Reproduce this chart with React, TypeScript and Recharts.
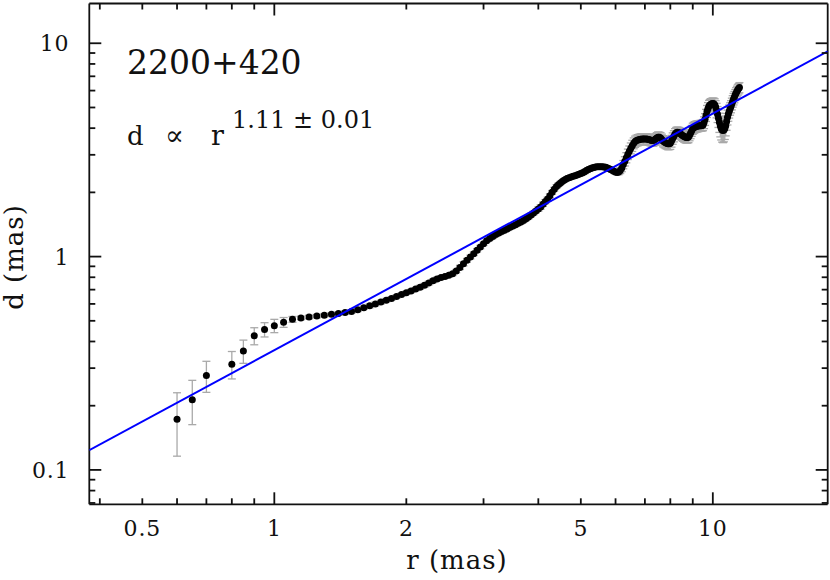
import { ScatterChart, Scatter, XAxis, YAxis, ErrorBar } from "recharts";

// jet width d versus core distance r (mas)
const radius = [
  0.6, 0.65, 0.7, 0.8, 0.85, 0.9, 0.95, 1.0, 1.05, 1.1,
  1.15, 1.2, 1.25, 1.3, 1.35, 1.4, 1.45, 1.5, 1.55, 1.6,
  1.65, 1.7, 1.75, 1.8, 1.85, 1.9, 1.95, 2.0, 2.05, 2.1,
  2.15, 2.2, 2.25, 2.3, 2.35, 2.4, 2.45, 2.5, 2.55, 2.6,
  2.65, 2.7, 2.75, 2.8, 2.85, 2.9, 2.95, 3.0, 3.05, 3.1,
  3.15, 3.2, 3.25, 3.3, 3.35, 3.4, 3.45, 3.5, 3.55, 3.6,
  3.65, 3.7, 3.75, 3.8, 3.85, 3.9, 3.95,
  4.0, 4.05, 4.1, 4.15, 4.2, 4.25, 4.3, 4.35, 4.4, 4.45, 4.5, 4.55, 4.6, 4.65, 4.7, 4.75, 4.8, 4.85, 4.9, 4.95,
  5.0, 5.05, 5.1, 5.15, 5.2, 5.25, 5.3, 5.35, 5.4, 5.45, 5.5, 5.55, 5.6, 5.65, 5.7, 5.75, 5.8, 5.85, 5.9, 5.95,
  6.0, 6.05, 6.1, 6.15, 6.2, 6.25, 6.3, 6.35, 6.4, 6.45, 6.5, 6.55, 6.6, 6.65, 6.7, 6.75, 6.8, 6.85, 6.9, 6.95,
  7.0, 7.05, 7.1, 7.15, 7.2, 7.25, 7.3, 7.35, 7.4, 7.45, 7.5, 7.55, 7.6, 7.65, 7.7, 7.75, 7.8, 7.85, 7.9, 7.95,
  8.0, 8.05, 8.1, 8.15, 8.2, 8.25, 8.3, 8.35, 8.4, 8.45, 8.5, 8.55, 8.6, 8.65, 8.7, 8.75, 8.8, 8.85, 8.9, 8.95,
  9.0, 9.05, 9.1, 9.15, 9.2, 9.25, 9.3, 9.35, 9.4, 9.45, 9.5, 9.55, 9.6, 9.65, 9.7, 9.75, 9.8, 9.85, 9.9, 9.95,
  10.0, 10.05, 10.1, 10.15, 10.2, 10.25, 10.3, 10.35, 10.4, 10.45, 10.5, 10.55, 10.6, 10.65, 10.7, 10.75, 10.8, 10.85, 10.9, 10.95,
  11.0, 11.05, 11.1, 11.15, 11.2, 11.25, 11.3, 11.35, 11.4, 11.45, 11.5,
];

const width = [
  0.173, 0.213, 0.277, 0.313, 0.361, 0.425, 0.455, 0.474, 0.492, 0.508,
  0.516, 0.521, 0.526, 0.531, 0.536, 0.541, 0.547, 0.553, 0.563, 0.576,
  0.588, 0.6, 0.612, 0.624, 0.637, 0.65, 0.664, 0.677, 0.69, 0.704,
  0.718, 0.733, 0.752, 0.77, 0.786, 0.798, 0.807, 0.817, 0.83, 0.855,
  0.89, 0.925, 0.96, 0.995, 1.032, 1.07, 1.108, 1.148, 1.188, 1.215,
  1.242, 1.27, 1.29, 1.31, 1.33, 1.35, 1.372, 1.392, 1.412, 1.432,
  1.454, 1.476, 1.505, 1.535, 1.567, 1.6, 1.635,
  1.67, 1.71, 1.76, 1.81, 1.86, 1.93, 2.0, 2.07, 2.13, 2.18, 2.22, 2.26, 2.29, 2.32, 2.34, 2.36, 2.38, 2.395, 2.41, 2.43,
  2.45, 2.475, 2.5, 2.53, 2.56, 2.58, 2.6, 2.615, 2.63, 2.635, 2.64, 2.64, 2.64, 2.63, 2.62, 2.6, 2.58, 2.56, 2.54, 2.51,
  2.49, 2.48, 2.49, 2.53, 2.6, 2.7, 2.8, 2.91, 3.02, 3.12, 3.22, 3.31, 3.4, 3.46, 3.5, 3.52, 3.54, 3.55, 3.56, 3.56,
  3.56, 3.56, 3.55, 3.535, 3.52, 3.505, 3.5, 3.52, 3.56, 3.6, 3.63, 3.625, 3.6, 3.54, 3.48, 3.45, 3.42, 3.4, 3.38, 3.38,
  3.4, 3.48, 3.58, 3.67, 3.76, 3.81, 3.83, 3.82, 3.8, 3.76, 3.72, 3.69, 3.66, 3.64, 3.62, 3.62, 3.64, 3.71, 3.8, 3.89,
  3.98, 4.02, 4.05, 4.07, 4.08, 4.09, 4.1, 4.105, 4.11, 4.12, 4.14, 4.25, 4.4, 4.6, 4.8, 4.95, 5.08, 5.14, 5.18, 5.2,
  5.22, 5.2, 5.15, 5.02, 4.85, 4.65, 4.45, 4.26, 4.1, 3.99, 3.92, 3.9, 3.92, 3.99, 4.1, 4.3, 4.5, 4.66, 4.8, 4.93,
  5.05, 5.2, 5.35, 5.48, 5.6, 5.73, 5.85, 5.95, 6.05, 6.13, 6.2,
];

const widthErr = [
  0.057, 0.05, 0.046, 0.046, 0.045, 0.039, 0.035, 0.034, 0.026, 0.016,
  0.01, 0.01, 0.01, 0.01, 0.01, 0.01, 0.01, 0.01, 0.01, 0.01,
  0.012, 0.012, 0.012, 0.012, 0.012, 0.012, 0.012, 0.012, 0.012, 0.012,
  0.015, 0.015, 0.015, 0.015, 0.015, 0.015, 0.015, 0.015, 0.015, 0.015,
  0.02, 0.02, 0.02, 0.02, 0.02, 0.02, 0.02, 0.02, 0.02, 0.02,
  0.025, 0.025, 0.025, 0.025, 0.025, 0.025, 0.025, 0.025, 0.025, 0.025,
  0.03, 0.03, 0.03, 0.03, 0.03, 0.03, 0.03,
  0.04, 0.04, 0.04, 0.04, 0.04, 0.04, 0.04, 0.04, 0.04, 0.04, 0.04, 0.04, 0.04, 0.04, 0.04, 0.04, 0.04, 0.04, 0.04, 0.04,
  0.05, 0.05, 0.05, 0.05, 0.05, 0.05, 0.05, 0.05, 0.05, 0.05, 0.05, 0.05, 0.05, 0.05, 0.05, 0.05, 0.05, 0.05, 0.05, 0.05,
  0.05, 0.06, 0.07, 0.08, 0.1, 0.12, 0.14, 0.16, 0.17, 0.18, 0.19, 0.2, 0.2, 0.21, 0.21, 0.21, 0.21, 0.21, 0.21, 0.21,
  0.21, 0.21, 0.21, 0.21, 0.21, 0.21, 0.21, 0.21, 0.21, 0.21, 0.21, 0.21, 0.21, 0.21, 0.21, 0.21, 0.21, 0.21, 0.21, 0.21,
  0.22, 0.22, 0.22, 0.22, 0.22, 0.22, 0.22, 0.22, 0.22, 0.22, 0.22, 0.22, 0.22, 0.22, 0.22, 0.22, 0.22, 0.22, 0.23, 0.23,
  0.24, 0.24, 0.24, 0.24, 0.24, 0.24, 0.24, 0.24, 0.24, 0.24, 0.25, 0.27, 0.28, 0.3, 0.31, 0.32, 0.32, 0.32, 0.32, 0.32,
  0.32, 0.33, 0.34, 0.36, 0.38, 0.4, 0.42, 0.44, 0.46, 0.47, 0.48, 0.48, 0.47, 0.45, 0.42, 0.39, 0.36, 0.35, 0.34, 0.33,
  0.33, 0.33, 0.33, 0.34, 0.34, 0.34, 0.34, 0.34, 0.34, 0.34, 0.34,
];

// power-law fit d = A r^k
const fitAmp = 0.364;
const fitIndex = 1.11;

const rRange = [0.3785, 18.28];
const dRange = [0.069, 15.36];

const xTicks = [0.4, 0.5, 0.6, 0.7, 0.8, 0.9, 1, 2, 3, 4, 5, 6, 7, 8, 9, 10];
const xLabels = [0.5, 1, 2, 5, 10];
const yTicks = [
  0.07, 0.08, 0.09, 0.1, 0.2, 0.3, 0.4, 0.5, 0.6, 0.7, 0.8, 0.9,
  1, 2, 3, 4, 5, 6, 7, 8, 9, 10,
];
const yLabels = [0.1, 1, 10];

const points = radius.map((r, i) => ({ r, d: width[i], err: widthErr[i] }));
const fitLine = rRange.map((r) => ({ r, d: fitAmp * Math.pow(r, fitIndex) }));

const FONT = "DejaVu Serif";
const INK = "#111";

const isDecade = (v: number) => {
  const l = Math.log10(v);
  return Math.abs(l - Math.round(l)) < 1e-6;
};

function XTick(props: any) {
  const { x, y, payload, side } = props;
  const v = payload.value;
  const len = isDecade(v) ? 12 : 6;
  const dir = side === "bottom" ? -1 : 1;
  return (
    <g>
      <line x1={x} x2={x} y1={y} y2={y + dir * len} stroke={INK} strokeWidth={1.8} />
      {side === "bottom" && xLabels.includes(v) && (
        <text x={x} y={y + 32} textAnchor="middle" fontFamily={FONT} fontSize={22} letterSpacing={0.8} fill={INK}>
          {String(v)}
        </text>
      )}
    </g>
  );
}

function YTick(props: any) {
  const { x, y, payload, side } = props;
  const v = payload.value;
  const len = isDecade(v) ? 12 : 6;
  const dir = side === "left" ? 1 : -1;
  return (
    <g>
      <line x1={x} x2={x + dir * len} y1={y} y2={y} stroke={INK} strokeWidth={1.8} />
      {side === "left" && yLabels.includes(v) && (
        <text x={x - 20} y={y + 8} textAnchor="end" fontFamily={FONT} fontSize={22} letterSpacing={0.8} fill={INK}>
          {String(v)}
        </text>
      )}
    </g>
  );
}

const Dot = (p: any) => <circle cx={p.cx} cy={p.cy} r={3.5} fill="#000" />;

export default function App() {
  return (
    <div style={{ position: "absolute", left: 0, top: 0, width: 830, height: 580, background: "#fff" }}>
      <ScatterChart width={830} height={580} margin={{ top: 2.5, right: 1.3, bottom: 0, left: 0 }}>
        <XAxis
          dataKey="r"
          type="number"
          scale="log"
          domain={rRange}
          allowDataOverflow
          ticks={xTicks}
          interval={0}
          height={75.7}
          tickSize={0}
          tickMargin={0}
          axisLine={{ stroke: INK, strokeWidth: 1.8 }}
          tick={(p: any) => <XTick {...p} side="bottom" />}
        />
        <XAxis
          xAxisId="top"
          orientation="top"
          dataKey="r"
          type="number"
          scale="log"
          domain={rRange}
          allowDataOverflow
          ticks={xTicks}
          interval={0}
          height={1}
          tickSize={0}
          tickMargin={0}
          axisLine={{ stroke: INK, strokeWidth: 1.8 }}
          tick={(p: any) => <XTick {...p} side="top" />}
        />
        <YAxis
          dataKey="d"
          type="number"
          scale="log"
          domain={dRange}
          allowDataOverflow
          ticks={yTicks}
          interval={0}
          width={89.3}
          tickSize={0}
          tickMargin={0}
          axisLine={{ stroke: INK, strokeWidth: 1.8 }}
          tick={(p: any) => <YTick {...p} side="left" />}
        />
        <YAxis
          yAxisId="right"
          orientation="right"
          dataKey="d"
          type="number"
          scale="log"
          domain={dRange}
          allowDataOverflow
          ticks={yTicks}
          interval={0}
          width={1}
          tickSize={0}
          tickMargin={0}
          axisLine={{ stroke: INK, strokeWidth: 1.8 }}
          tick={(p: any) => <YTick {...p} side="right" />}
        />
        <Scatter data={points} shape={Dot} isAnimationActive={false}>
          <ErrorBar dataKey="err" direction="y" width={4} stroke="#a9a9a9" strokeWidth={1.3} />
        </Scatter>
        <Scatter
          data={fitLine}
          xAxisId="top"
          yAxisId="right"
          line={{ stroke: "#0000ff", strokeWidth: 2 }}
          lineType="joint"
          shape={() => <g />}
          isAnimationActive={false}
        />
      </ScatterChart>
      <svg width={830} height={580} style={{ position: "absolute", left: 0, top: 0, pointerEvents: "none" }}>
        <text x={127} y={74} fontFamily={FONT} fontSize={33} fill={INK}>
          2200+420
        </text>
        <text y={145} fontFamily={FONT} fill={INK}>
          <tspan x={127} fontSize={26}>d</tspan>
          <tspan x={165} fontSize={28}>∝</tspan>
          <tspan x={211} fontSize={27}>r</tspan>
          <tspan x={232} y={128} fontSize={24}>
            1.11 ± 0.01
          </tspan>
        </text>
        <text x={457} y={569} textAnchor="middle" fontFamily={FONT} fontSize={26} letterSpacing={1} fill={INK}>
          r (mas)
        </text>
        <text
          x={23}
          y={257}
          transform="rotate(-90 23 257)"
          textAnchor="middle"
          fontFamily={FONT}
          fontSize={26}
          letterSpacing={1}
          fill={INK}
        >
          d (mas)
        </text>
      </svg>
    </div>
  );
}
